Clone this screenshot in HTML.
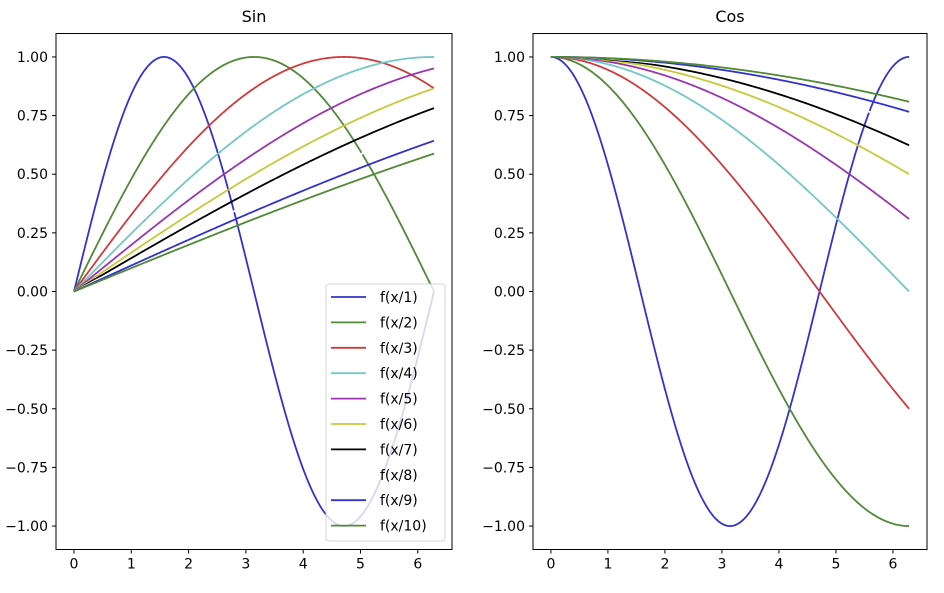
<!DOCTYPE html>
<html><head><meta charset="utf-8"><style>
body{margin:0;background:#fff;}
svg text{font-family:"DejaVu Sans","Liberation Sans",sans-serif;}
</style></head><body>
<svg id="s" width="944" height="588" xmlns="http://www.w3.org/2000/svg"></svg>
<script>
const s=document.getElementById('s');
const cols=['#3333cc','#4f8a35','#d03a3a','#70c8c8','#9a36b0','#c8c83a','#000000','#ffffff','#3333cc','#4f8a35'];
let h='';
function ax(L,R,T,B,fn,title,legend){
 const x0=-0.31416,x1=6.59734,y0=-1.1,y1=1.1;
 const X=v=>L+(v-x0)/(x1-x0)*(R-L), Y=v=>B-(v-y0)/(y1-y0)*(B-T);
 h+=`<text x="${(L+R)/2}" y="22" font-size="16" text-anchor="middle">${title}</text>`;
 for(let k=1;k<=10;k++){
  let d='';
  for(let i=0;i<=300;i++){const x=2*Math.PI*i/300;d+=(i?'L':'M')+X(x).toFixed(2)+','+Y(fn(x/k)).toFixed(2);}
  h+=`<path d="${d}" fill="none" stroke="${cols[k-1]}" stroke-width="1.8"/>`;
 }
 h+=`<rect x="${L}" y="${T}" width="${R-L}" height="${B-T}" fill="none" stroke="#000" stroke-width="1"/>`;
 for(let t=0;t<=6;t++){const x=X(t);h+=`<line x1="${x}" y1="${B}" x2="${x}" y2="${B+4}" stroke="#000"/><text x="${x}" y="${B+19}" font-size="14" text-anchor="middle">${t}</text>`;}
 for(let t=-4;t<=4;t++){const v=t/4,y=Y(v);h+=`<line x1="${L-4}" y1="${y}" x2="${L}" y2="${y}" stroke="#000"/><text x="${L-8}" y="${y+5}" font-size="14" text-anchor="end">${v.toFixed(2).replace('-','−')}</text>`;}
 if(legend){
  h+=`<rect x="326" y="284" width="119" height="257" rx="3" fill="#fff" fill-opacity="0.8" stroke="#ccc" stroke-opacity="0.8"/>`;
  for(let k=1;k<=10;k++){const y=297+(k-1)*25.4;
   h+=`<line x1="331" y1="${y}" x2="366" y2="${y}" stroke="${cols[k-1]}" stroke-width="1.8"/><text x="380" y="${y+5}" font-size="14">f(x/${k})</text>`;}
 }
}
ax(56,452,33.5,549.5,Math.sin,'Sin',true);
ax(533,927,33.5,549.5,Math.cos,'Cos',false);
s.innerHTML=h;
</script>
</body></html>
